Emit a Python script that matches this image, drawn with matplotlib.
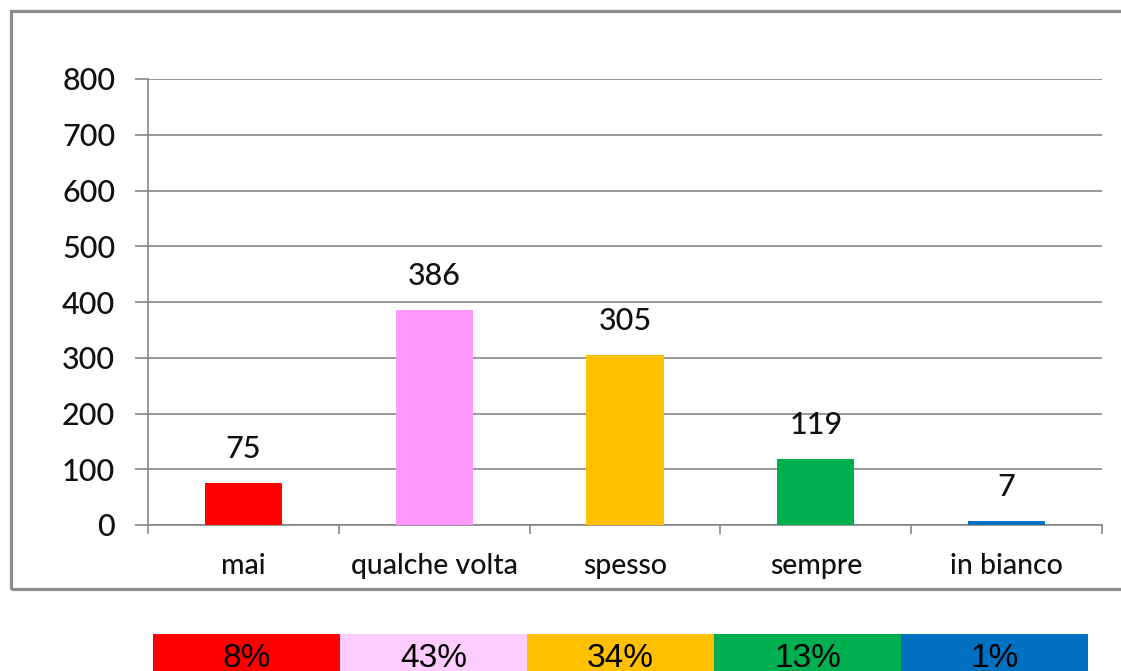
import matplotlib
matplotlib.use("Agg")
import matplotlib.pyplot as plt
from matplotlib.patches import Rectangle

categories = ["mai", "qualche volta", "spesso", "sempre", "in bianco"]
values = [75, 386, 305, 119, 7]
bar_colors = ["#FF0000", "#FF99FF", "#FFC000", "#00B050", "#0070C0"]
percent_labels = ["8%", "43%", "34%", "13%", "1%"]
table_colors = ["#FF0000", "#FFCCFF", "#FFC000", "#00B050", "#0070C0"]
y_ticks = [0, 100, 200, 300, 400, 500, 600, 700, 800]

W, H = 1121, 671
fig = plt.figure(figsize=(W / 100, H / 100), dpi=100)
fig.patch.set_facecolor("white")

def fx(px):
    return px / W

def fy(py):
    return 1 - py / H

# outer frame
fig.patches.append(Rectangle((fx(11), fy(589)), fx(1140) - fx(11), fy(11) - fy(589),
                             transform=fig.transFigure, fill=False,
                             edgecolor="#8C8C8C", linewidth=2.3, zorder=0))

GRID = "#868686"
TXT = "#111111"
ax = fig.add_axes([fx(148), fy(525), fx(1102) - fx(148), fy(79) - fy(525)])
x = [i + 0.5 for i in range(len(categories))]
ax.bar(x, values, width=0.405, color=bar_colors, zorder=3)
ax.set_xlim(0, 5)
ax.set_ylim(0, 800)
ax.set_yticks(y_ticks)
ax.set_yticklabels([str(v) for v in y_ticks], fontfamily="Lato", fontsize=22,
                   color=TXT, fontweight="medium")
ax.yaxis.grid(True, color=GRID, linewidth=1.2, zorder=0)
ax.tick_params(axis="y", direction="out", length=9.5, width=1.2, color=GRID, pad=14)
ax.set_xticks(range(0, 6))
ax.set_xticklabels([""] * 6)
ax.tick_params(axis="x", which="major", direction="out", length=6.5, width=1.2, color=GRID)
ax.set_xticks(x, minor=True)
ax.set_xticklabels(categories, minor=True, fontfamily="Lato", fontsize=20.5,
                   color=TXT, fontweight="medium")
ax.tick_params(axis="x", which="minor", length=0, pad=20)
for s in ["top", "right"]:
    ax.spines[s].set_visible(False)
for s in ["left", "bottom"]:
    ax.spines[s].set_color(GRID)
    ax.spines[s].set_linewidth(1.2)
for xi, v in zip(x, values):
    ax.annotate(str(v), (xi, v), xytext=(0, 18), textcoords="offset points",
                ha="center", va="baseline", fontfamily="Lato", fontsize=22,
                color=TXT, fontweight="medium")

# percentage strip
ax2 = fig.add_axes([fx(153), fy(700), fx(1088) - fx(153), fy(634) - fy(700)])
ax2.bar(range(len(percent_labels)), [1] * len(percent_labels), width=1.0,
        color=table_colors, align="edge")
ax2.set_xlim(0, 5)
ax2.set_ylim(0, 1)
ax2.axis("off")
base_frac = (700 - 667) / (700 - 634)
for i, lab in enumerate(percent_labels):
    ax2.text(i + 0.5, base_frac, lab, ha="center", va="baseline",
             fontfamily="Liberation Sans", fontsize=24, color="#000000")

fig.savefig("out.png", dpi=100, facecolor="white")
